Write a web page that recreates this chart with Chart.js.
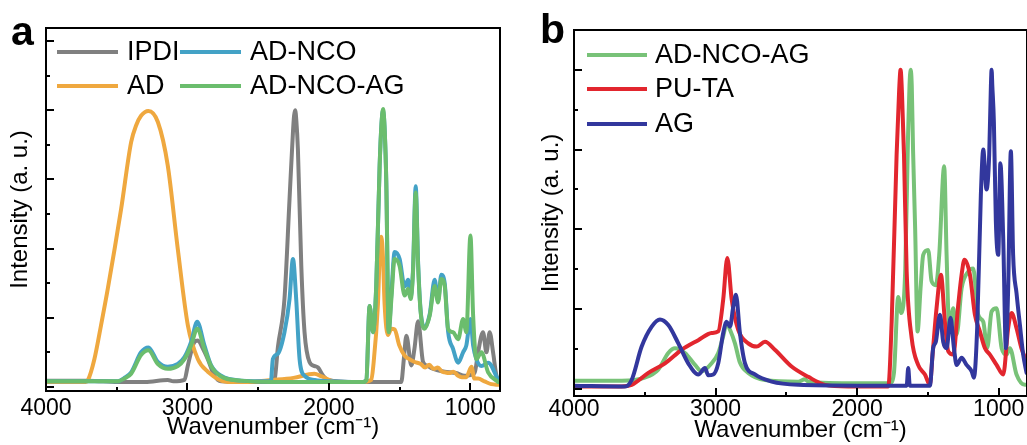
<!DOCTYPE html>
<html>
<head>
<meta charset="utf-8">
<title>FTIR spectra</title>
<script src="https://cdn.jsdelivr.net/npm/chart.js@4.4.1/dist/chart.umd.min.js"></script>
<style>
    html, body { margin: 0; padding: 0; background: #fff; overflow: hidden; }
    #boxA { position: absolute; left: 0; top: 0; width: 520px; height: 445px; }
    #boxB { position: absolute; left: 520px; top: 0; width: 507px; height: 445px; }
</style>
</head>
<body>
<div id="boxA"><canvas id="chartA" width="520" height="445"></canvas></div>
<div id="boxB"><canvas id="chartB" width="507" height="445"></canvas></div>
<script>
/*-------------------------------------------------------------------------------
 DATA  (wavenumber in cm-1, intensity in arbitrary units)
 -------------------------------------------------------------------------------*/

const xTickValues = [4000, 3000, 2000, 1000];

// panel a
const ipdiWn = [4000, 3700, 3493, 3300, 3139, 3100, 3021, 2997, 2950, 2926, 2890, 2856, 2809, 2762, 2600, 2400, 2384,
    2360, 2314, 2278, 2254, 2246, 2238, 2230, 2219, 2195, 2172, 2137, 2100, 2077, 2040, 2006, 1800, 1600, 1488, 1470,
    1452, 1417, 1395, 1369, 1334, 1300, 1275, 1230, 1181, 1100, 1040, 970, 945, 910, 886, 863, 839, 815, 795];
const ipdiAbs = [0.09, 0.09, 0.07, 0.07, 0.1, 0.08, 0.1, 0.31, 0.65, 0.67, 0.55, 0.4, 0.16, 0.08, 0.07, 0.07, 0.1,
    0.58, 1.27, 2.72, 3.68, 3.92, 4.0, 3.85, 3.44, 1.75, 0.79, 0.36, 0.3, 0.28, 0.16, 0.1, 0.07, 0.07, 0.07, 0.4,
    0.74, 0.31, 0.55, 0.95, 0.36, 0.3, 0.27, 0.24, 0.22, 0.2, 0.16, 0.2, 0.5, 0.79, 0.5, 0.79, 0.5, 0.16, 0.1];

const adWn = [4000, 3720, 3705, 3658, 3611, 3563, 3469, 3398, 3363, 3328, 3276, 3209, 3139, 3068, 2997, 2926, 2856,
    2714, 2600, 2400, 2250, 2103, 2050, 1950, 1760, 1700, 1686, 1653, 1640, 1629, 1618, 1606, 1582, 1558, 1535, 1502,
    1464, 1430, 1393, 1350, 1320, 1290, 1260, 1230, 1200, 1181, 1150, 1120, 1086, 1060, 1028, 992, 971, 945, 900, 851, 800];
const adAbs = [0.07, 0.07, 0.09, 0.4, 0.89, 1.42, 2.57, 3.54, 3.78, 3.92, 3.99, 3.83, 3.2, 1.99, 0.89, 0.4, 0.22,
    0.07, 0.07, 0.1, 0.13, 0.19, 0.15, 0.07, 0.07, 0.1, 0.3, 1.2, 1.95, 2.17, 1.9, 1.2, 0.75, 0.84, 0.83, 0.6,
    0.45, 0.4, 0.36, 0.33, 0.28, 0.32, 0.26, 0.28, 0.22, 0.21, 0.2, 0.22, 0.16, 0.14, 0.14, 0.29, 0.12, 0.12, 0.08, 0.04, 0.03];

const adNcoWn = [4000, 3493, 3446, 3398, 3328, 3276, 3209, 3139, 3068, 3021, 2974, 2931, 2880, 2832, 2762, 2620, 2410,
    2396, 2360, 2314, 2278, 2254, 2231, 2207, 2172, 2100, 2000, 1760, 1735, 1712, 1688, 1665, 1641, 1628, 1617, 1605,
    1594, 1577, 1558, 1535, 1500, 1464, 1440, 1422, 1405, 1386, 1369, 1351, 1323, 1287, 1252, 1228, 1205, 1181, 1157,
    1122, 1086, 1051, 1028, 999, 980, 957, 921, 874, 803];
const adNcoAbs = [0.08, 0.08, 0.13, 0.21, 0.5, 0.57, 0.36, 0.29, 0.33, 0.43, 0.65, 0.94, 0.6, 0.31, 0.16, 0.09, 0.08,
    0.4, 0.48, 0.79, 1.27, 1.85, 1.27, 0.4, 0.16, 0.1, 0.08, 0.07, 0.1, 1.17, 0.79, 1.46, 3.2, 3.8, 4.0, 3.7,
    2.96, 0.82, 1.35, 1.95, 1.85, 1.45, 1.55, 1.3, 1.7, 2.9, 1.8, 1.1, 0.86, 1.05, 1.55, 1.25, 1.62, 1.5, 0.8,
    0.55, 0.35, 0.5, 0.6, 0.98, 0.6, 0.4, 0.3, 0.35, 0.1];

const adNcoAgWn = [4000, 3493, 3446, 3398, 3328, 3276, 3209, 3139, 3068, 3021, 2974, 2931, 2880, 2832, 2762, 2620, 2400,
    2000, 1760, 1735, 1712, 1688, 1665, 1641, 1628, 1617, 1605, 1594, 1577, 1558, 1535, 1500, 1464, 1440, 1422, 1405,
    1386, 1369, 1351, 1323, 1287, 1252, 1228, 1205, 1181, 1157, 1122, 1086, 1051, 1028, 999, 980, 957, 921, 874, 803];
const adNcoAgAbs = [0.08, 0.08, 0.12, 0.19, 0.46, 0.53, 0.33, 0.26, 0.3, 0.4, 0.6, 0.84, 0.55, 0.3, 0.15, 0.09, 0.07,
    0.07, 0.07, 0.1, 1.17, 0.79, 1.46, 3.2, 3.8, 4.02, 3.7, 2.96, 0.79, 1.27, 1.85, 1.75, 1.32, 1.42, 1.27, 1.66,
    2.81, 1.75, 1.08, 0.84, 1.03, 1.46, 1.22, 1.56, 1.46, 0.84, 0.79, 0.69, 0.98, 0.79, 2.19, 1.03, 0.4, 0.5, 0.21, 0.07];

// panel b
const agGreenWn = [4000, 3663, 3500, 3405, 3334, 3287, 3216, 3145, 3098, 3028, 2981, 2946, 2922, 2898, 2863, 2828, 2769,
    2651, 2416, 2369, 2345, 2000, 1768, 1740, 1710, 1688, 1660, 1640, 1630, 1622, 1614, 1605, 1590, 1573, 1552, 1533,
    1498, 1474, 1444, 1420, 1385, 1368, 1349, 1321, 1297, 1262, 1215, 1180, 1145, 1109, 1081, 1050, 1015, 979, 944,
    921, 874, 815, 800];
const agGreenAbs = [0.1, 0.1, 0.14, 0.24, 0.45, 0.51, 0.45, 0.3, 0.22, 0.32, 0.45, 0.66, 0.82, 0.74, 0.57, 0.33, 0.2,
    0.11, 0.09, 0.12, 0.09, 0.07, 0.07, 0.2, 1.15, 0.95, 1.5, 3.2, 3.8, 4.0, 3.8, 3.0, 2.0, 0.72, 1.26, 1.68,
    1.74, 1.35, 1.3, 1.68, 2.79, 1.68, 0.76, 1.01, 0.68, 1.26, 1.47, 1.51, 0.93, 0.84, 0.51, 0.97, 1.01, 0.51, 0.43,
    0.51, 0.18, 0.05, 0.05];

const puTaWn = [4000, 3663, 3593, 3475, 3357, 3239, 3122, 3028, 2981, 2946, 2917, 2886, 2840, 2769, 2710, 2651, 2581,
    2463, 2345, 2227, 2063, 1780, 1756, 1721, 1703, 1693, 1683, 1669, 1650, 1615, 1569, 1521, 1486, 1467, 1439, 1408,
    1380, 1356, 1321, 1286, 1262, 1242, 1203, 1168, 1133, 1097, 1062, 1015, 968, 933, 909, 874, 838, 803];
const puTaAbs = [0.03, 0.03, 0.05, 0.2, 0.32, 0.49, 0.61, 0.7, 0.72, 1.12, 1.64, 1.12, 0.74, 0.57, 0.53, 0.59, 0.49,
    0.28, 0.15, 0.05, 0.03, 0.03, 0.84, 2.94, 3.75, 4.0, 3.7, 2.94, 1.47, 0.64, 0.3, 0.18, 0.05, 0.43, 1.01, 1.43,
    0.84, 0.47, 0.43, 1.05, 1.43, 1.62, 1.43, 0.93, 0.72, 0.51, 0.43, 0.3, 0.18, 0.76, 0.95, 0.76, 0.5, 0.35];

const agWn = [4000, 3640, 3593, 3522, 3451, 3393, 3334, 3263, 3193, 3122, 3075, 3052, 3016, 2981, 2946, 2922, 2898,
    2875, 2856, 2828, 2792, 2722, 2604, 2416, 2000, 1650, 1639, 1628, 1486, 1463, 1444, 1415, 1392, 1368, 1340, 1316,
    1297, 1262, 1227, 1191, 1175, 1152, 1126, 1109, 1086, 1067, 1055, 1050, 1045, 1034, 1020, 1003, 988, 968, 949, 933,
    914, 898, 874, 850, 827, 803];
const agAbs = [0.04, 0.03, 0.11, 0.53, 0.78, 0.87, 0.8, 0.57, 0.32, 0.18, 0.26, 0.17, 0.18, 0.32, 0.7, 0.84, 0.78,
    1.03, 1.18, 0.7, 0.32, 0.18, 0.09, 0.05, 0.04, 0.04, 0.26, 0.04, 0.04, 0.51, 0.59, 0.93, 0.59, 0.51, 0.89, 0.51,
    0.3, 0.39, 0.3, 0.22, 0.14, 0.76, 2.43, 3.0, 2.5, 2.94, 3.8, 4.0, 3.8, 3.35, 2.1, 1.68, 2.83, 1.89, 0.51, 1.26,
    2.98, 1.68, 1.2, 0.8, 0.43, 0.2];


/*-------------------------------------------------------------------------------
 helpers + plugins
 -------------------------------------------------------------------------------*/

const FONT = '"Liberation Sans", Arial, Helvetica, sans-serif';

function toPoints(wn, abs) {
    let pts = [];
    for (let i = 0; i < wn.length; i++) {
        pts.push({x: wn[i], y: abs[i]});
    }
    return pts;
}

function line(label, wn, abs, color, order) {
    return {
        label: label,
        data: toPoints(wn, abs),
        borderColor: color,
        backgroundColor: color,
        borderWidth: 4,
        borderJoinStyle: 'round',
        borderCapStyle: 'round',
        pointRadius: 0,
        fill: false,
        order: order,
        cubicInterpolationMode: 'monotone'
    };
}

// box around the plot area + inward major/minor ticks on bottom and left
const frameTicks = {
    id: 'frameTicks',
    afterDraw(chart) {
        const ctx = chart.ctx;
        const a = chart.chartArea;
        const xs = chart.scales.x;
        const ys = chart.scales.y;
        ctx.save();
        ctx.strokeStyle = '#000';
        ctx.lineWidth = 2;
        ctx.strokeRect(a.left, a.top, a.right - a.left, a.bottom - a.top);

        ctx.beginPath();
        for (let w = 1000; w < 4000; w += 500) {
            if (w < xs.min) continue;
            let px = Math.round(xs.getPixelForValue(w));
            let len = (w % 1000 === 0) ? 8 : 4;
            ctx.moveTo(px, a.bottom);
            ctx.lineTo(px, a.bottom - len);
        }
        for (let v = 0; v <= ys.max - 0.05; v += 0.5) {
            let py = Math.round(ys.getPixelForValue(v));
            let len = (v % 1 === 0) ? 8 : 4;
            ctx.moveTo(a.left, py);
            ctx.lineTo(a.left + len, py);
        }
        ctx.stroke();
        ctx.restore();
    }
};

// legend drawn in columns inside the frame
const innerLegend = {
    id: 'innerLegend',
    afterDraw(chart, args, opts) {
        const ctx = chart.ctx;
        const sets = chart.data.datasets;
        ctx.save();
        ctx.font = opts.size + 'px ' + FONT;
        ctx.textBaseline = 'middle';
        ctx.fillStyle = '#000';
        for (let i = 0; i < sets.length; i++) {
            let col = Math.floor(i / opts.perCol);
            let row = i % opts.perCol;
            let x = opts.cols[col];
            let y = opts.rows[row];
            ctx.strokeStyle = sets[i].borderColor;
            ctx.lineWidth = 4;
            ctx.beginPath();
            ctx.moveTo(x, y);
            ctx.lineTo(x + opts.lineLen, y);
            ctx.stroke();
            ctx.fillText(sets[i].label, x + opts.lineLen + opts.gap, y + 1);
        }
        ctx.restore();
    }
};

// bold panel letter in the corner
const panelTag = {
    id: 'panelTag',
    afterDraw(chart, args, opts) {
        const ctx = chart.ctx;
        ctx.save();
        ctx.font = 'bold ' + opts.size + 'px ' + FONT;
        ctx.fillStyle = '#000';
        ctx.textBaseline = 'alphabetic';
        ctx.fillText(opts.text, opts.x, opts.y);
        ctx.restore();
    }
};

function spectrumChart(canvasId, datasets, geo) {
    let ctx = document.getElementById(canvasId).getContext('2d');
    return new Chart(ctx, {
        type: 'line',
        data: {datasets: datasets},
        plugins: [frameTicks, innerLegend, panelTag],
        options: {
            responsive: false,
            animation: false,
            events: [],
            layout: {padding: {left: 0, right: geo.padRight, top: geo.top, bottom: 0}},
            plugins: {
                legend: {display: false},
                tooltip: {enabled: false},
                innerLegend: geo.legend,
                panelTag: geo.tag
            },
            scales: {
                x: {
                    type: 'linear',
                    reverse: true,
                    min: geo.xMin,
                    max: 4000,
                    afterBuildTicks: function (scale) {
                        scale.ticks = xTickValues.map(v => ({value: v}));
                    },
                    afterFit: function (scale) {
                        scale.height = geo.xHeight;
                    },
                    grid: {display: false, drawTicks: false},
                    border: {display: false},
                    ticks: {
                        autoSkip: false,
                        maxRotation: 0,
                        padding: geo.tickPad,
                        color: '#000',
                        font: {family: FONT, size: 23},
                        callback: v => String(v)
                    },
                    title: {
                        display: true,
                        text: 'Wavenumber (cm\u207B\u00B9)',
                        color: '#000',
                        font: {family: FONT, size: 24},
                        padding: {top: 0, bottom: geo.xTitlePad}
                    }
                },
                y: {
                    min: geo.yMin,
                    max: geo.yMax,
                    afterFit: function (scale) {
                        scale.width = geo.yWidth;
                    },
                    grid: {display: false, drawTicks: false},
                    border: {display: false},
                    ticks: {display: false},
                    title: {
                        display: true,
                        text: 'Intensity (a. u.)',
                        color: '#000',
                        font: {family: FONT, size: 24},
                        padding: {top: geo.yTitlePad, bottom: 0}
                    }
                }
            }
        }
    });
}


/*-------------------------------------------------------------------------------
 panel a
 -------------------------------------------------------------------------------*/

spectrumChart('chartA', [
    line('IPDI', ipdiWn, ipdiAbs, '#808080', 3),
    line('AD', adWn, adAbs, '#EFA83F', 2),
    line('AD-NCO', adNcoWn, adNcoAbs, '#43A2C6', 1),
    line('AD-NCO-AG', adNcoAgWn, adNcoAgAbs, '#6BBD6D', 0)
], {
    top: 28, padRight: 20, xMin: 790, xHeight: 54, yWidth: 46,
    yMin: -0.06, yMax: 5.19, tickPad: 4, xTitlePad: 3, yTitlePad: 6,
    legend: {cols: [57, 180], rows: [52, 86], perCol: 2, lineLen: 61, gap: 9, size: 27},
    tag: {text: 'a', x: 11, y: 45, size: 41}
});


/*-------------------------------------------------------------------------------
 panel b
 -------------------------------------------------------------------------------*/

spectrumChart('chartB', [
    line('AD-NCO-AG', agGreenWn, agGreenAbs, '#78C278', 2),
    line('PU-TA', puTaWn, puTaAbs, '#E2262E', 1),
    line('AG', agWn, agAbs, '#32379D', 0)
], {
    top: 30, padRight: 0, xMin: 800, xHeight: 49, yWidth: 54,
    yMin: -0.09, yMax: 4.5, tickPad: 0, xTitlePad: 0, yTitlePad: 17,
    legend: {cols: [67], rows: [55, 89, 124], perCol: 3, lineLen: 60, gap: 8, size: 27},
    tag: {text: 'b', x: 20, y: 43, size: 41}
});
</script>
</body>
</html>
